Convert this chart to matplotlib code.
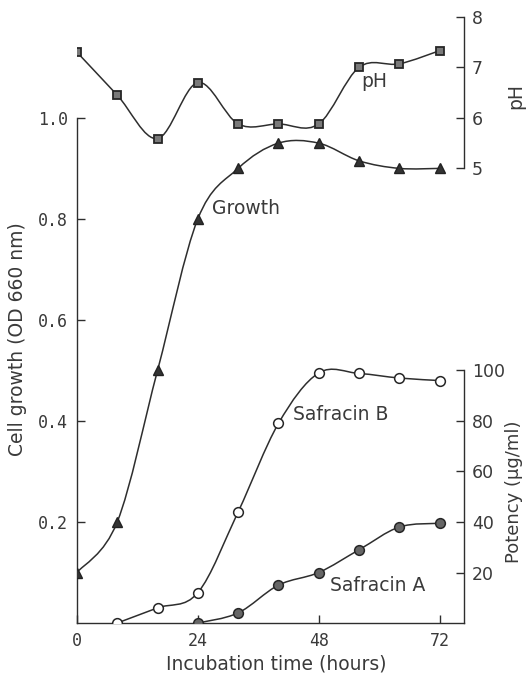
import numpy as np
import matplotlib
matplotlib.use("Agg")
import matplotlib.pyplot as plt
from matplotlib.path import Path
from matplotlib.patches import PathPatch

# incubation time (hours)
hours = [0, 8, 16, 24, 32, 40, 48, 56, 64, 72]
growth = [0.10, 0.20, 0.50, 0.80, 0.90, 0.95, 0.95, 0.915, 0.90, 0.90]
ph = [7.30, 6.45, 5.59, 6.70, 5.88, 5.88, 5.88, 7.00, 7.07, 7.33]
hours_b = [8, 16, 24, 32, 40, 48, 56, 64, 72]
safracin_b = [0, 6, 12, 44, 79, 99, 98.8, 97, 96]
hours_a = [24, 32, 40, 48, 56, 64, 72]
safracin_a = [0, 4, 15, 20, 29, 38, 39.5]

ink = '#2e2e2e'
txt = '#3a3a3a'
mono = 'DejaVu Sans Mono'
sans = 'DejaVu Sans'
fs = 13.5


def smooth(ax, x, y, t=1/6.):
    # catmull-rom style bezier through the points
    n = len(x)
    verts = [(x[0], y[0])]
    codes = [Path.MOVETO]
    for i in range(n - 1):
        xa, ya = (x[i-1], y[i-1]) if i > 0 else (x[i], y[i])
        xb, yb = (x[i+2], y[i+2]) if i + 2 < n else (x[i+1], y[i+1])
        c1 = (x[i] + (x[i+1] - xa) * t, y[i] + (y[i+1] - ya) * t)
        c2 = (x[i+1] - (xb - x[i]) * t, y[i+1] - (yb - y[i]) * t)
        verts += [c1, c2, (x[i+1], y[i+1])]
        codes += [Path.CURVE4] * 3
    ax.add_patch(PathPatch(Path(verts, codes), facecolor='none',
                           edgecolor=ink, lw=1.1, zorder=2))


fig = plt.figure(figsize=(5.27, 6.75), dpi=100)
ax = fig.add_axes([0.146, 0.077, 0.734, 0.916])
ytop = 1.224
ax.set_xlim(0, 76.8)
ax.set_ylim(0, ytop)

ax_pot = ax.twinx()
ax_pot.set_ylim(0, ytop * 200)
ax_ph = ax.twinx()
ax_ph.set_ylim(-4, (ytop - 0.4) / 0.1)

for a in (ax, ax_pot, ax_ph):
    a.spines['top'].set_visible(False)
    for s in a.spines.values():
        s.set_color(ink)
        s.set_linewidth(1.0)
ax.spines['right'].set_visible(False)
ax_pot.spines['left'].set_visible(False)
ax_ph.spines['left'].set_visible(False)
ax_ph.spines['bottom'].set_visible(False)
ax_pot.spines['bottom'].set_visible(False)

ax.spines['left'].set_bounds(0, 1.0)
ax_pot.spines['right'].set_bounds(0, 100)
ax_ph.spines['right'].set_bounds(5, 8)

ax.set_yticks([0.2, 0.4, 0.6, 0.8, 1.0])
ax.set_yticklabels(['0.2', '0.4', '0.6', '0.8', '1.0'], family=mono, fontsize=12)
ax.set_xticks([0, 24, 48, 72])
ax.set_xticklabels(['0', '24', '48', '72'], family=mono, fontsize=12)
ax.tick_params(direction='in', length=6, width=1, color=ink, labelcolor=txt, pad=6.5)

ax_pot.set_yticks([20, 40, 60, 80, 100])
ax_pot.set_yticklabels(['20', '40', '60', '80', '100'], family=sans, fontsize=12.5)
ax_ph.set_yticks([5, 6, 7, 8])
ax_ph.set_yticklabels(['5', '6', '7', '8'], family=sans, fontsize=12.5)
for a in (ax_pot, ax_ph):
    a.tick_params(direction='in', length=6, width=1, color=ink, labelcolor=txt, pad=6)

# curves
smooth(ax, hours, growth)
ax.plot(hours, growth, ls='none', marker='^', ms=7.5, mfc='#333333', mec='#222222', zorder=3)

smooth(ax_ph, hours, ph)
ax_ph.plot(hours, ph, ls='none', marker='s', ms=6, mfc='#7a7a7a', mec='#262626', mew=1.3, zorder=3)

smooth(ax_pot, hours_b, safracin_b)
ax_pot.plot(hours_b, safracin_b, ls='none', marker='o', ms=7, mfc='white', mec='#262626', mew=1.1, zorder=3)

smooth(ax_pot, hours_a, safracin_a)
ax_pot.plot(hours_a, safracin_a, ls='none', marker='o', ms=7, mfc='#666666', mec='#262626', mew=1.1, zorder=3)

# labels
ax.text(26.8, 0.82, 'Growth', family=sans, fontsize=fs, color=txt, va='center', ha='left')
ax_ph.text(56.5, 6.72, 'pH', family=sans, fontsize=fs, color=txt, va='center', ha='left')
ax_pot.text(42.8, 82.5, 'Safracin B', family=sans, fontsize=fs, color=txt, va='center', ha='left')
ax_pot.text(50.2, 15, 'Safracin A', family=sans, fontsize=fs, color=txt, va='center', ha='left')

fig.text(0.034, 0.498, 'Cell growth (OD 660 nm)', family=sans, fontsize=fs, color=txt,
         rotation=90, ha='center', va='center')
fig.text(0.524, 0.016, 'Incubation time (hours)', family=sans, fontsize=fs, color=txt,
         ha='center', va='center')
fig.text(0.979, 0.858, 'pH', family=sans, fontsize=fs, color=txt,
         rotation=90, ha='center', va='center')
fig.text(0.976, 0.271, 'Potency (\u03bcg/ml)', family=sans, fontsize=13, color=txt,
         rotation=90, ha='center', va='center')

fig.savefig('out.png', dpi=100)
